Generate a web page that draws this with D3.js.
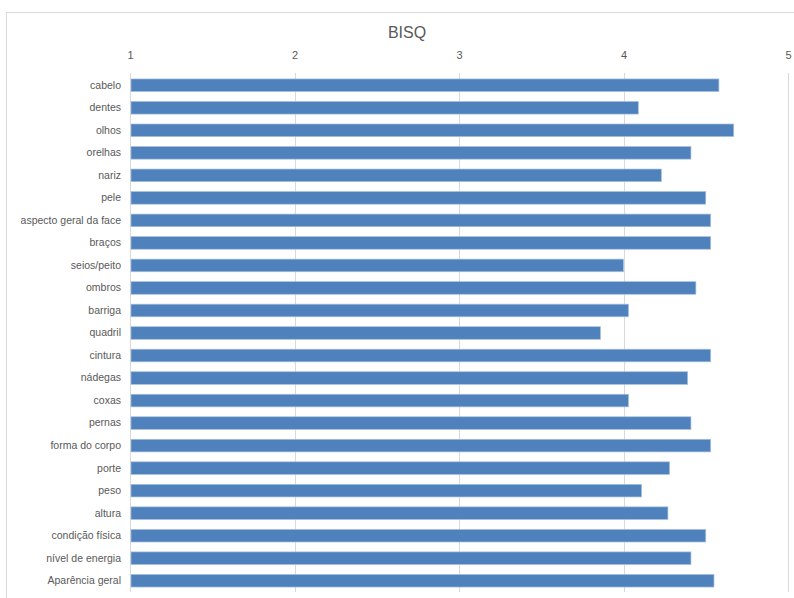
<!DOCTYPE html>
<html>
  <head>
    <meta charset="utf-8">
    <style type="text/css">
      body { margin: 0; background: #fff; }
      text { font-family: "Liberation Sans", Arial, sans-serif; fill: #595959; }
    </style>
  </head>
  <body>
    <div id="canvas"></div>
    <script src="https://cdn.jsdelivr.net/npm/d3@7"></script>
    <script type="text/javascript">
      var categories = ["cabelo", "dentes", "olhos", "orelhas", "nariz", "pele",
        "aspecto geral da face", "braços", "seios/peito", "ombros", "barriga",
        "quadril", "cintura", "nádegas", "coxas", "pernas", "forma do corpo",
        "porte", "peso", "altura", "condição física", "nível de energia",
        "Aparência geral"];
      var values = [4.58, 4.09, 4.67, 4.41, 4.23, 4.50, 4.53, 4.53, 4.00, 4.44,
        4.03, 3.86, 4.53, 4.39, 4.03, 4.41, 4.53, 4.28, 4.11, 4.27, 4.50, 4.41, 4.55];
      var ticks = [1, 2, 3, 4, 5];
      var title = "BISQ";

      (function () {
        var width = 794, height = 598;
        var plotLeft = 130, plotRight = 788, plotTop = 74, plotBottom = 592;

        var svg = d3.select('#canvas').append('svg')
          .attr('width', width)
          .attr('height', height)
          .style('display', 'block');

        // chart frame
        svg.append('rect')
          .attr('x', 6.5).attr('y', 12.5)
          .attr('width', 800).attr('height', 600)
          .attr('fill', 'none')
          .attr('stroke', '#d9d9d9');

        svg.append('text')
          .attr('x', 407).attr('y', 38)
          .attr('text-anchor', 'middle')
          .style('font-size', '16px')
          .text(title);

        var x = d3.scaleLinear().domain([1, 5]).range([plotLeft, plotRight]);
        var y = d3.scaleBand().domain(categories).range([plotTop, plotBottom])
          .paddingInner(0.44).paddingOuter(0.22);

        // gridlines
        svg.selectAll('line.grid')
          .data(ticks)
          .enter().append('line')
          .attr('class', 'grid')
          .attr('x1', function (d) { return Math.round(x(d)) + 0.5; })
          .attr('x2', function (d) { return Math.round(x(d)) + 0.5; })
          .attr('y1', plotTop - 1)
          .attr('y2', plotBottom)
          .attr('stroke', '#d9d9d9');

        // top axis labels
        var xAxis = svg.append('g')
          .attr('transform', 'translate(0,' + (plotTop - 12) + ')')
          .call(d3.axisTop(x).tickValues(ticks).tickFormat(d3.format('d')).tickSize(0));
        xAxis.select('.domain').remove();
        xAxis.selectAll('text').style('font-size', '11px').attr('fill', '#595959');

        // category labels
        var yAxis = svg.append('g')
          .attr('transform', 'translate(' + (plotLeft - 9) + ',0)')
          .call(d3.axisLeft(y).tickSize(0).tickPadding(0));
        yAxis.select('.domain').remove();
        yAxis.selectAll('text').style('font-size', '10.5px').attr('fill', '#595959');

        // bars
        svg.selectAll('rect.bar')
          .data(values)
          .enter().append('rect')
          .attr('class', 'bar')
          .attr('x', x(1) + 1)
          .attr('y', function (d, i) { return y(categories[i]); })
          .attr('width', function (d) { return x(d) - x(1) - 1; })
          .attr('height', y.bandwidth())
          .attr('fill', '#4f81bd')
          .attr('stroke', '#a7c0de')
          .attr('stroke-width', 0.7);
      })();
    </script>
  </body>
</html>
